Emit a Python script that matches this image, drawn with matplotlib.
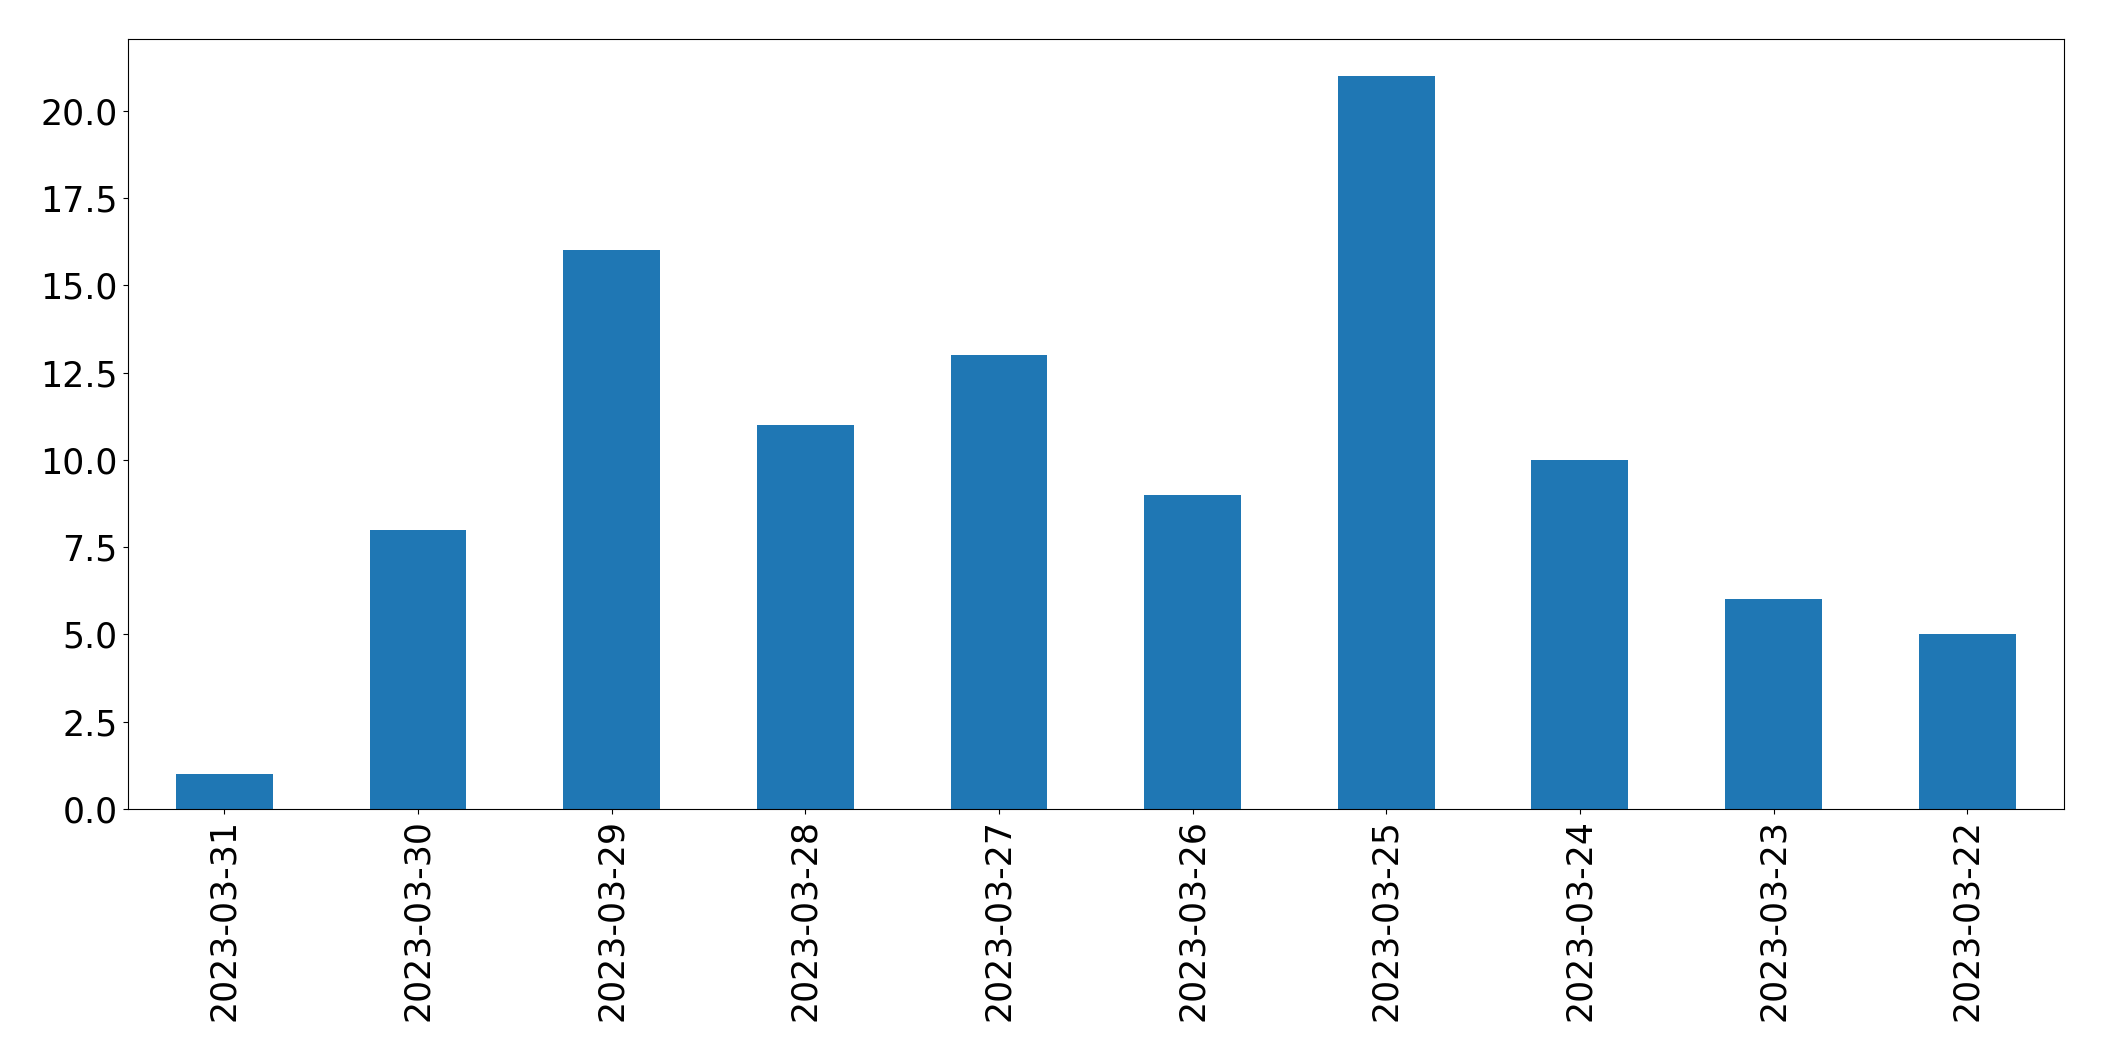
import matplotlib
matplotlib.use("Agg")
import matplotlib.pyplot as plt

dates = ["2023-03-31", "2023-03-30", "2023-03-29", "2023-03-28", "2023-03-27",
         "2023-03-26", "2023-03-25", "2023-03-24", "2023-03-23", "2023-03-22"]
counts = [1, 8, 16, 11, 13, 9, 21, 10, 6, 5]

fig = plt.figure(figsize=(21.04, 10.61), dpi=100)
ax = fig.add_axes([0.0606, 0.2375, 0.9204, 0.7257])
x = list(range(len(dates)))
ax.bar(x, counts, width=0.5, color="#1f77b4")
ax.set_xlim(-0.5, len(dates) - 0.5)
ax.set_ylim(0, max(counts) * 1.05)
ax.set_xticks(x)
ax.set_xticklabels(dates, rotation=90)
ax.tick_params(labelsize=25)
fig.savefig("out.png", dpi=100)
